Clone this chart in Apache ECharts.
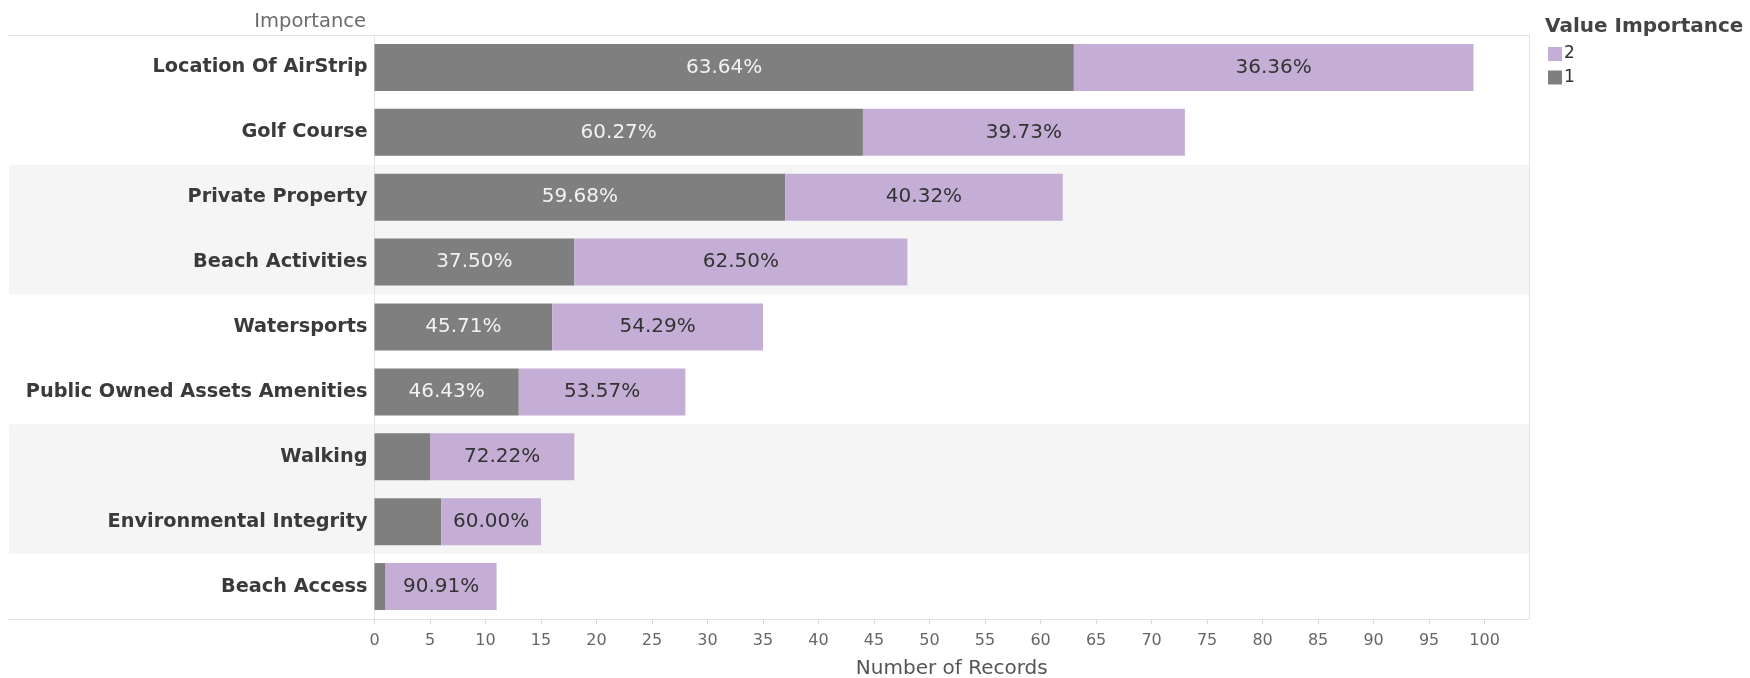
<!DOCTYPE html>
<html>
<head>
<meta charset="utf-8">
<script src="https://cdn.jsdelivr.net/npm/echarts@6/dist/echarts.min.js"></script>
<style>
html,body{margin:0;padding:0;background:#fff;}
#chart{width:1750px;height:678px;}
</style>
</head>
<body>
<div id="chart"></div>
<script>
const categories = ['Location Of AirStrip','Golf Course','Private Property','Beach Activities','Watersports','Public Owned Assets Amenities','Walking','Environmental Integrity','Beach Access'];
const importance1 = [63, 44, 37, 18, 16, 13, 5, 6, 1];
const importance2 = [36, 29, 25, 30, 19, 15, 13, 9, 10];
const legendItems = ['2', '1'];

const FONT = '"DejaVu Sans", "Liberation Sans", Arial, sans-serif';
function pct(a, b) { return (a / (a + b) * 100).toFixed(2) + '%'; }

const chart = echarts.init(document.getElementById('chart'), null, {renderer: 'canvas'});
chart.setOption({
  animation: false,
  backgroundColor: '#ffffff',
  textStyle: {fontFamily: FONT},
  title: [
    {text: 'Importance', right: 1384, top: 12, padding: 0, textStyle: {fontFamily: FONT, fontSize: 19.5, fontWeight: 'normal', color: '#6b6b6b'}},
    {text: 'Value Importance', left: 1545, top: 16.5, padding: 0, textStyle: {fontFamily: FONT, fontSize: 20, fontWeight: 'bold', color: '#444'}}
  ],
  legend: {
    data: legendItems,
    orient: 'vertical',
    left: 1548, top: 45.5, padding: 0,
    icon: 'rect', itemWidth: 14, itemHeight: 14, itemGap: 6.5,
    textStyle: {fontFamily: FONT, fontSize: 17, lineHeight: 14, color: '#333', padding: [0, 0, 0, -3]}
  },
  grid: [
    {left: 374.5, right: 221, top: 35, bottom: 59, outerBoundsMode: 'none'},
    {left: 9, right: 221, top: 35, bottom: 59, outerBoundsMode: 'none'}
  ],
  xAxis: [
    {
      gridIndex: 0, type: 'value', min: 0, max: 104, interval: 5,
      name: 'Number of Records', nameLocation: 'middle', nameGap: 40,
      nameTextStyle: {fontFamily: FONT, fontSize: 20, color: '#555'},
      axisLine: {show: true, lineStyle: {color: '#e3e3e3'}},
      axisTick: {show: true, length: 5, lineStyle: {color: '#d9d9d9'}},
      axisLabel: {fontFamily: FONT, fontSize: 16, color: '#666', margin: 14, showMaxLabel: false},
      splitLine: {show: false}
    },
    {
      gridIndex: 1, type: 'value', min: 0, max: 1, position: 'bottom',
      axisLine: {show: true, onZero: false, lineStyle: {color: '#e3e3e3'}},
      axisTick: {show: false}, axisLabel: {show: false}, splitLine: {show: false}
    },
    {
      gridIndex: 1, type: 'value', min: 0, max: 1, position: 'top',
      axisLine: {show: true, onZero: false, lineStyle: {color: '#e3e3e3'}},
      axisTick: {show: false}, axisLabel: {show: false}, splitLine: {show: false}
    }
  ],
  yAxis: [
    {
      gridIndex: 0, type: 'category', data: categories, inverse: true,
      axisLine: {show: true, onZero: false, lineStyle: {color: '#e3e3e3'}},
      axisTick: {show: false},
      axisLabel: {fontFamily: FONT, fontSize: 19.3, fontWeight: 'bold', color: '#3a3a3a', margin: 7}
    },
    {
      gridIndex: 1, type: 'category', data: categories, inverse: true, position: 'right',
      axisLine: {show: true, onZero: false, lineStyle: {color: '#e3e3e3'}},
      axisTick: {show: false}, axisLabel: {show: false},
      splitArea: {show: true, interval: 0, areaStyle: {color: ['#ffffff', '#ffffff', '#f5f5f5', '#f5f5f5']}}
    }
  ],
  series: [
    {
      name: '1', type: 'bar', stack: 'imp', xAxisIndex: 0, yAxisIndex: 0,
      data: importance1, barWidth: 47,
      itemStyle: {color: '#7f7f7f'},
      label: {
        show: true, position: 'inside', fontFamily: FONT, fontSize: 20, color: '#f2f2f2',
        formatter: p => importance1[p.dataIndex] >= 10 ? pct(importance1[p.dataIndex], importance2[p.dataIndex]) : ''
      }
    },
    {
      name: '2', type: 'bar', stack: 'imp', xAxisIndex: 0, yAxisIndex: 0,
      data: importance2, barWidth: 47,
      itemStyle: {color: '#c5aed5'},
      label: {
        show: true, position: 'inside', fontFamily: FONT, fontSize: 20, color: '#333',
        formatter: p => pct(importance2[p.dataIndex], importance1[p.dataIndex])
      }
    }
  ]
});
</script>
</body>
</html>
